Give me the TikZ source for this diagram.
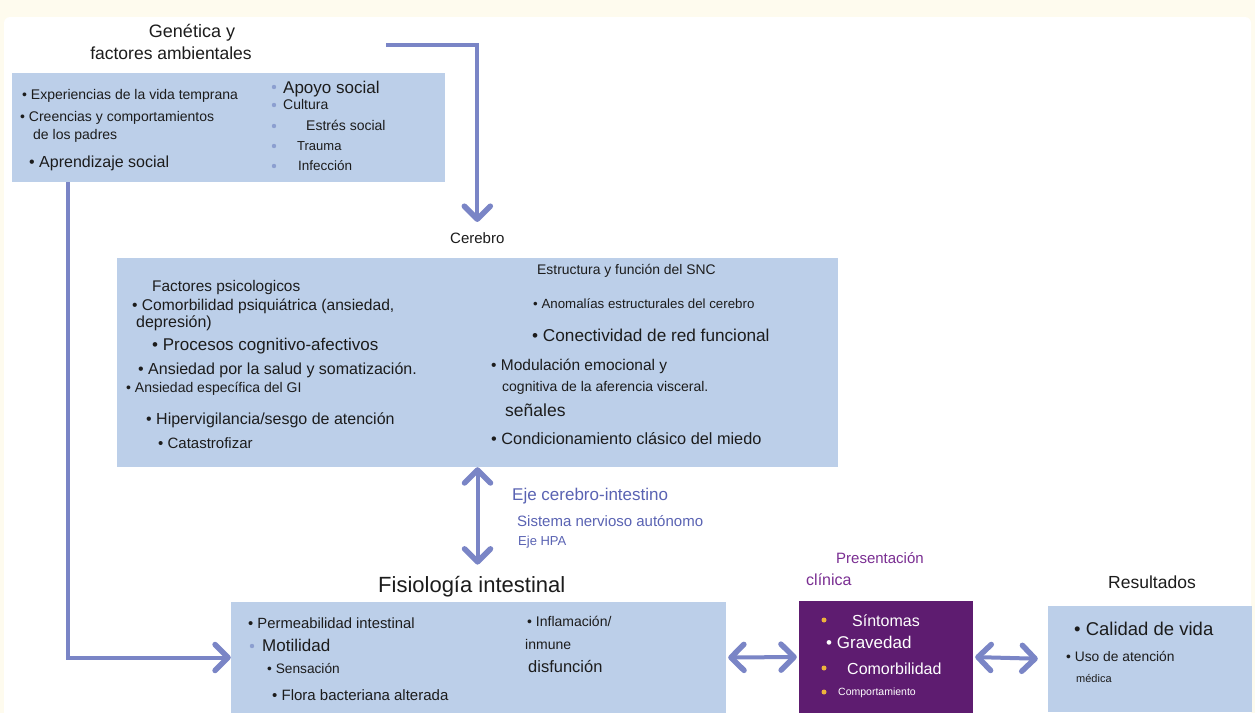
\documentclass[tikz,border=0pt]{standalone}
\usepackage{fontspec}
\setmainfont{Liberation Sans}
\usetikzlibrary{arrows.meta}
\definecolor{boxblue}{HTML}{BCCFE9}
\definecolor{linkblue}{HTML}{7A85C6}
\definecolor{dotblue}{HTML}{8C9FD0}
\definecolor{clinpurple}{HTML}{5E1C70}
\definecolor{titlepurple}{HTML}{7A2E92}
\definecolor{axisblue}{HTML}{5A63B3}
\definecolor{dotorange}{HTML}{EDB33C}
\definecolor{textdark}{HTML}{1C1C1C}
\definecolor{pagecream}{HTML}{FEFBEE}
\newcommand{\fsz}[1]{\fontsize{#1}{#1}\selectfont}
\tikzstyle{panel} = [rectangle, fill=boxblue, inner sep=0pt]
\tikzstyle{clinpanel} = [rectangle, fill=clinpurple, inner sep=0pt]
\tikzstyle{item} = [anchor=base west, inner sep=0pt, text=textdark]
\tikzstyle{clinitem} = [anchor=base west, inner sep=0pt, text=white]
\tikzstyle{heading} = [anchor=base, inner sep=0pt, text=textdark]
\tikzstyle{connector} = [draw=linkblue, line width=4pt, -{Straight Barb[length=13pt, width=26pt, line width=5.5pt, round]}]
\tikzstyle{biconnector} = [draw=linkblue, line width=4pt, {Straight Barb[length=13pt, width=26pt, line width=5.5pt, round]}-{Straight Barb[length=13pt, width=26pt, line width=5.5pt, round]}]

\begin{document}
\begin{tikzpicture}[x=1pt, y=-1pt]
        \useasboundingbox (0,0) rectangle (1255,713);
        \clip (0,0) rectangle (1255,713);
        \fill [pagecream] (0,0) rectangle (1255,713);
        \fill [white, rounded corners=6pt] (4,17) rectangle (1251,740);
        \node (env) [panel, minimum width=433pt, minimum height=109pt] at (228.5,127.5) {};
        \node (brain) [panel, minimum width=721pt, minimum height=209pt] at (477.5,362.5) {};
        \node (gut) [panel, minimum width=495pt, minimum height=111pt] at (478.5,657.5) {};
        \node (clin) [clinpanel, minimum width=174pt, minimum height=112pt] at (886,657) {};
        \node (res) [panel, minimum width=204pt, minimum height=106pt] at (1150,659) {};
        \node (gen-1) [heading, font=\fsz{18}] at (192,37.7) {Genética y};
        \node (gen-2) [heading, font=\fsz{17.5}] at (171,59) {factores ambientales};
        \coordinate (gen-out) at (386,45);
        \node (env-exp) [item, font=\fsz{14}] at (22,99) {• Experiencias de la vida temprana};
        \node (env-cre) [item, font=\fsz{14}] at (20,121) {• Creencias y comportamientos};
        \node (env-pad) [item, font=\fsz{14}] at (33,139) {de los padres};
        \node (env-apr) [item, font=\fsz{16}] at (29,167) {• Aprendizaje social};
        \node (env-apo) [item, font=\fsz{17}] at (283,93) {Apoyo social};
        \node (env-cul) [item, font=\fsz{14}] at (283,109) {Cultura};
        \node (env-est) [item, font=\fsz{14}] at (306,130) {Estrés social};
        \node (env-tra) [item, font=\fsz{13}] at (297,150) {Trauma};
        \node (env-inf) [item, font=\fsz{13.5}] at (298,170) {Infección};
        \foreach \y in {87,105,126,146,166}
            \fill [dotblue] (274,\y) circle (2.2pt);
        \node (cereb) [item, font=\fsz{15}] at (450,243) {Cerebro};
        \node (psy-head) [item, font=\fsz{15.4}] at (152,291.5) {Factores psicologicos};
        \node (psy-com) [item, font=\fsz{15.6}] at (132,310) {• Comorbilidad psiquiátrica (ansiedad,};
        \node (psy-dep) [item, font=\fsz{16}] at (136,327) {depresión)};
        \node (psy-pro) [item, font=\fsz{17}] at (152,350) {• Procesos cognitivo-afectivos};
        \node (psy-ans) [item, font=\fsz{16}] at (138,374) {• Ansiedad por la salud y somatización.};
        \node (psy-gi) [item, font=\fsz{14}] at (126,392) {• Ansiedad específica del GI};
        \node (psy-hip) [item, font=\fsz{16}] at (146,424) {• Hipervigilancia/sesgo de atención};
        \node (psy-cat) [item, font=\fsz{15}] at (158,448) {• Catastrofizar};
        \node (snc-head) [item, font=\fsz{13.9}] at (537,274) {Estructura y función del SNC};
        \node (snc-ano) [item, font=\fsz{13.3}] at (533,308) {• Anomalías estructurales del cerebro};
        \node (snc-con) [item, font=\fsz{17.2}] at (532,341) {• Conectividad de red funcional};
        \node (snc-mod) [item, font=\fsz{15.5}] at (491,370) {• Modulación emocional y};
        \node (snc-cog) [item, font=\fsz{14}] at (502,391) {cognitiva de la aferencia visceral.};
        \node (snc-sen) [item, font=\fsz{17.5}] at (505,416) {señales};
        \node (snc-mie) [item, font=\fsz{16.3}] at (491,444) {• Condicionamiento clásico del miedo};
        \node (axis-1) [item, text=axisblue, font=\fsz{17}] at (512,500) {Eje cerebro-intestino};
        \node (axis-2) [item, text=axisblue, font=\fsz{15}] at (517,526) {Sistema nervioso autónomo};
        \node (axis-3) [item, text=axisblue, font=\fsz{13}] at (518,545) {Eje HPA};
        \node (fis) [item, font=\fsz{22}] at (378,592) {Fisiología intestinal};
        \node (gut-per) [item, font=\fsz{14.8}] at (248,628) {• Permeabilidad intestinal};
        \fill [dotblue] (252,646) circle (2.2pt);
        \node (gut-mot) [item, font=\fsz{17}] at (262,651) {Motilidad};
        \node (gut-sen) [item, font=\fsz{13.7}] at (267,673) {• Sensación};
        \node (gut-flo) [item, font=\fsz{15}] at (272,700) {• Flora bacteriana alterada};
        \node (gut-inf) [item, font=\fsz{14}] at (527,626) {• Inflamación/};
        \node (gut-inm) [item, font=\fsz{14}] at (525,649) {inmune};
        \node (gut-dis) [item, font=\fsz{16.5}] at (528,672) {disfunción};
        \node (clin-1) [item, text=titlepurple, font=\fsz{15}] at (836,563) {Presentación};
        \node (clin-2) [item, text=titlepurple, font=\fsz{16}] at (806,585) {clínica};
        \foreach \y in {620,668,692}
            \fill [dotorange] (824,\y) circle (2.5pt);
        \node (clin-sin) [clinitem, font=\fsz{16}] at (852,626) {Síntomas};
        \node (clin-gra) [clinitem, font=\fsz{17}] at (826,648) {• Gravedad};
        \node (clin-com) [clinitem, font=\fsz{16}] at (847,674) {Comorbilidad};
        \node (clin-cmp) [clinitem, font=\fsz{10.5}] at (838,695) {Comportamiento};
        \node (res-head) [item, font=\fsz{17.5}] at (1108,588) {Resultados};
        \node (res-cal) [item, font=\fsz{18.5}] at (1074,635) {• Calidad de vida};
        \node (res-uso) [item, font=\fsz{13.8}] at (1066,661) {• Uso de atención};
        \node (res-med) [item, font=\fsz{11}] at (1076,682) {médica};
        \draw [connector] (gen-out) -| ([yshift=10pt]cereb.north);
        \draw [connector] ([xshift=56pt]env.south west) |- (gut.west);
        \draw [biconnector, shorten >=11pt] (brain.south) -- (brain.south |- fis.north);
        \draw [biconnector, shorten <=2pt, shorten >=2pt] (gut.east) -- (clin.west);
        \draw [biconnector, shorten <=2pt, shorten >=10pt] (clin.east) -- (res.west);
    \end{tikzpicture}
\end{document}
